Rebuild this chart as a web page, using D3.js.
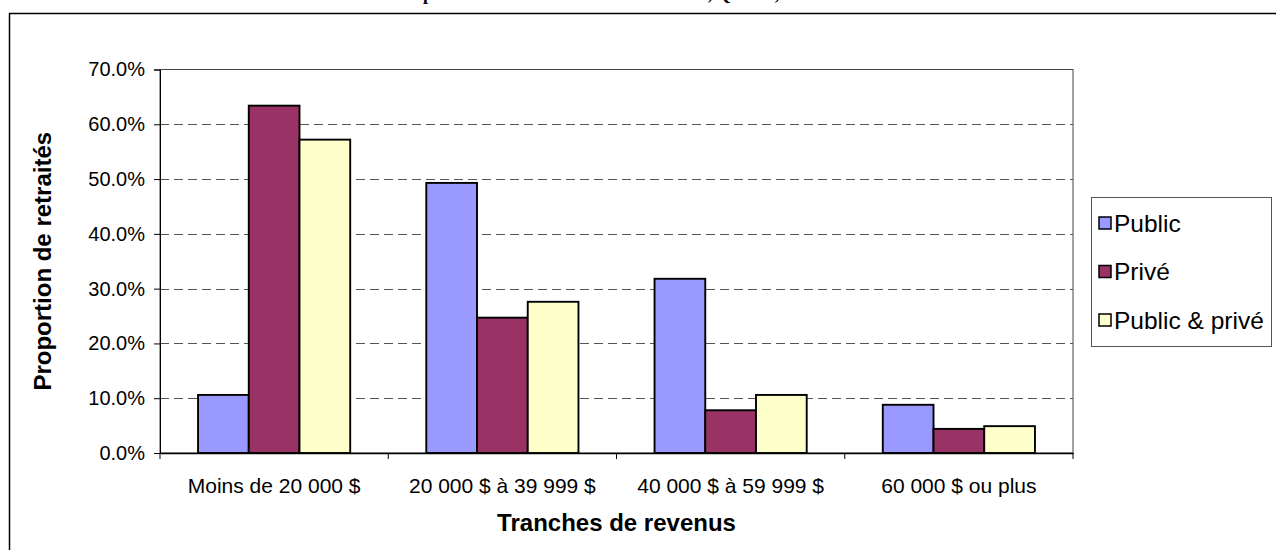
<!DOCTYPE html>
<html>
<head>
<meta charset="utf-8">
<script src="https://cdn.jsdelivr.net/npm/d3@7"></script>
<style>
body{margin:0;background:#fff;}
svg{display:block;font-family:"Liberation Sans",Arial,sans-serif;}
</style>
</head>
<body>
<svg id="chart" width="1276" height="550"></svg>
<script>
const categories=["Moins de 20 000 $","20 000 $ à 39 999 $","40 000 $ à 59 999 $","60 000 $ ou plus"];
const seriesNames=["Public","Privé","Public & privé"];
const seriesColors=["#9999FF","#993366","#FFFFCC"];
const publicValues=[10.6,49.3,31.8,8.8];
const priveValues=[63.4,24.7,7.8,4.4];
const mixteValues=[57.2,27.6,10.6,4.9];
const yTicks=[0,10,20,30,40,50,60,70];

const svg=d3.select("#chart");
const plotLeft=160,plotRight=1073,plotTop=69.5,plotBottom=453;

// cadre extérieur
svg.append("rect")
    .attr("x",9.5).attr("y",13.5)
    .attr("width",1400).attr("height",700)
    .attr("fill","none").attr("stroke","#000").attr("stroke-width",1.5);

// titre (coupé en haut dans l'original)
svg.append("text")
    .attr("x",402).attr("y",0)
    .attr("font-family","'Liberation Serif','Times New Roman',serif")
    .attr("font-weight","bold").attr("font-size",18)
    .text("Répartition des retraités selon le revenu, Québec, 2001");

const x=d3.scaleBand().domain(categories).range([plotLeft,plotRight]).padding(0);
const xs=d3.scaleBand().domain(seriesNames).range([0,x.bandwidth()]).paddingInner(0).paddingOuter(0.75);
const y=d3.scaleLinear().domain([0,70]).range([plotBottom,plotTop]);

// grille
svg.append("g").selectAll("line")
    .data(yTicks.filter(d=>d>0&&d<70))
    .join("line")
    .attr("x1",plotLeft).attr("x2",plotRight)
    .attr("y1",d=>Math.round(y(d))+0.5).attr("y2",d=>Math.round(y(d))+0.5)
    .attr("stroke","#555").attr("stroke-dasharray","9,5");

// bordure de la zone de traçage
svg.append("rect")
    .attr("x",plotLeft).attr("y",plotTop)
    .attr("width",plotRight-plotLeft).attr("height",plotBottom-plotTop)
    .attr("fill","none").attr("stroke","#444").attr("stroke-width",1);

// barres
const allValues=[publicValues,priveValues,mixteValues];
const rows=[];
categories.forEach((c,i)=>{
    seriesNames.forEach((s,j)=>{
        rows.push({cat:c,series:s,value:allValues[j][i],color:seriesColors[j]});
    });
});
svg.append("g").selectAll("rect")
    .data(rows)
    .join("rect")
    .attr("x",d=>x(d.cat)+xs(d.series))
    .attr("y",d=>y(d.value))
    .attr("width",xs.bandwidth())
    .attr("height",d=>y(0)-y(d.value))
    .attr("fill",d=>d.color)
    .attr("stroke","#000").attr("stroke-width",1.9);

// axe Y
const yAxis=svg.append("g")
    .attr("transform",`translate(${plotLeft},0)`)
    .call(d3.axisLeft(y).tickValues(yTicks).tickFormat(d=>d.toFixed(1)+"%").tickSize(6).tickPadding(9));
yAxis.select(".domain").attr("stroke","#000");
yAxis.selectAll("line").attr("stroke","#000");
yAxis.selectAll("text").attr("font-size",20).attr("fill","#000").attr("font-family","'Liberation Sans',Arial,sans-serif");

// axe X
const xAxis=svg.append("g")
    .attr("transform",`translate(0,${plotBottom})`)
    .call(d3.axisBottom(x).tickSize(0).tickPadding(25));
xAxis.select(".domain").attr("stroke","#000").attr("stroke-width",1.5);
xAxis.selectAll("text").attr("font-size",21).attr("fill","#000").attr("font-family","'Liberation Sans',Arial,sans-serif");
svg.append("g").selectAll("line")
    .data(categories.map(c=>x(c)).concat([plotRight]))
    .join("line")
    .attr("x1",d=>d).attr("x2",d=>d)
    .attr("y1",plotBottom).attr("y2",plotBottom+6)
    .attr("stroke","#000");

// titres des axes
svg.append("text")
    .attr("transform",`translate(51,${(plotTop+plotBottom)/2}) rotate(-90)`)
    .attr("text-anchor","middle")
    .attr("font-weight","bold").attr("font-size",24)
    .text("Proportion de retraités");
svg.append("text")
    .attr("x",(plotLeft+plotRight)/2).attr("y",531)
    .attr("text-anchor","middle")
    .attr("font-weight","bold").attr("font-size",24)
    .text("Tranches de revenus");

// légende
const legend=svg.append("g");
legend.append("rect")
    .attr("x",1091.5).attr("y",197.5)
    .attr("width",180).attr("height",149)
    .attr("fill","#fff").attr("stroke","#555");
const items=legend.selectAll("g.item")
    .data(seriesNames)
    .join("g")
    .attr("class","item")
    .attr("transform",(d,i)=>`translate(1099,${223+i*48.5})`);
items.append("rect")
    .attr("x",0).attr("y",-6).attr("width",12).attr("height",12)
    .attr("fill",(d,i)=>seriesColors[i])
    .attr("stroke","#000").attr("stroke-width",1.5);
items.append("text")
    .attr("x",15).attr("y",0).attr("dy","0.36em")
    .attr("font-size",24.5)
    .text(d=>d);
</script>
</body>
</html>
